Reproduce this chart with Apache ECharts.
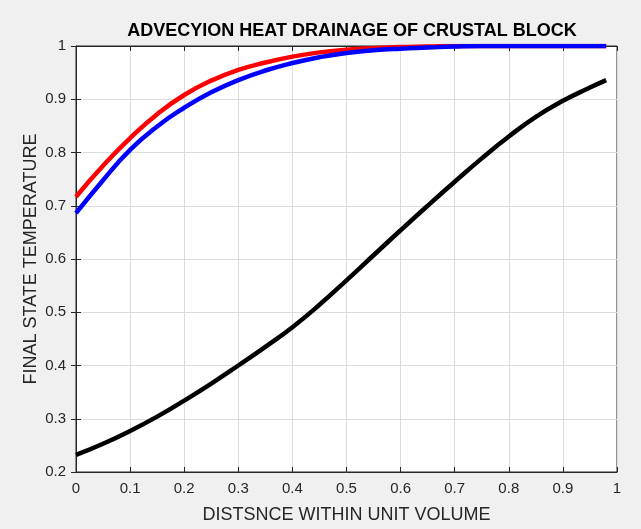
<!DOCTYPE html>
<html>
<head>
<meta charset="utf-8">
<script src="https://cdn.jsdelivr.net/npm/echarts@6/dist/echarts.min.js"></script>
<style>
	html, body { margin: 0; padding: 0; background: #f0f0f0; }
	#chart { width: 641px; height: 529px; }
</style>
</head>
<body>
<div id="chart"></div>
<script>
// distance positions
var xs = [0, 0.05, 0.1, 0.15, 0.2, 0.25, 0.3, 0.35, 0.4, 0.45, 0.5, 0.55, 0.6, 0.65, 0.7, 0.75, 0.8, 0.85, 0.9, 0.95, 0.98]
// final state temperature, three runs
var redT   = [0.717, 0.775, 0.827, 0.872, 0.908, 0.935, 0.955, 0.969, 0.980, 0.988, 0.993, 0.996, 0.998, 0.999, 1, 1, 1, 1, 1, 1, 1]
var blueT  = [0.686, 0.748, 0.805, 0.849, 0.884, 0.913, 0.936, 0.954, 0.968, 0.979, 0.987, 0.992, 0.995, 0.997, 0.999, 1, 1, 1, 1, 1, 1]
var blackT = [0.232, 0.253, 0.277, 0.304, 0.334, 0.366, 0.400, 0.435, 0.472, 0.514, 0.560, 0.607, 0.654, 0.700, 0.745, 0.789, 0.830, 0.867, 0.897, 0.922, 0.936]

function pairs(ys) {
	var arr = []
	for(var i = 0; i < xs.length; i ++) arr.push([xs[i], ys[i]])
	return arr
}

var font = 'Liberation Sans, Arial, sans-serif'
var chart = echarts.init(document.getElementById('chart'))

function lineSeries(ys, color) {
	return {
		type: 'line',
		data: pairs(ys),
		smooth: 0.5,
		showSymbol: false,
		lineStyle: { color: color, width: 4.5 },
		itemStyle: { color: color }
	}
}

var option = {
	backgroundColor: '#f0f0f0',
	animation: false,
	title: {
		text: 'ADVECYION HEAT DRAINAGE OF CRUSTAL BLOCK',
		left: 347,
		textAlign: 'center',
		top: 17,
		textStyle: { fontFamily: font, fontSize: 18, fontWeight: 'bold', color: '#000' }
	},
	grid: {
		left: 76, right: 24, top: 46, bottom: 56,
		show: true, backgroundColor: '#fff', borderColor: '#262626', borderWidth: 1
	},
	xAxis: [{
		type: 'value', min: 0, max: 1, interval: 0.1,
		name: 'DISTSNCE WITHIN UNIT VOLUME', nameLocation: 'middle', nameGap: 34,
		nameMoveOverlap: false,
		nameTextStyle: { fontFamily: font, fontSize: 18, color: '#262626' },
		axisLine: { lineStyle: { color: '#262626' } },
		axisTick: { inside: true, length: 5, lineStyle: { color: '#262626' } },
		axisLabel: { fontFamily: font, fontSize: 15, color: '#262626', margin: 9 },
		splitLine: { lineStyle: { color: '#dcdcdc' } }
	}, {
		type: 'value', min: 0, max: 1, interval: 0.1, position: 'top',
		axisLine: { lineStyle: { color: '#262626' } },
		axisTick: { inside: true, length: 5, lineStyle: { color: '#262626' } },
		axisLabel: { show: false }, splitLine: { show: false }
	}],
	yAxis: [{
		type: 'value', min: 0.2, max: 1, interval: 0.1,
		name: 'FINAL STATE TEMPERATURE', nameLocation: 'middle', nameGap: 36,
		nameMoveOverlap: false,
		nameTextStyle: { fontFamily: font, fontSize: 18, color: '#262626' },
		axisLine: { lineStyle: { color: '#262626' } },
		axisTick: { inside: true, length: 5, lineStyle: { color: '#262626' } },
		axisLabel: { fontFamily: font, fontSize: 15, color: '#262626', margin: 10,
			formatter: function(v) { return String(Math.round(v * 10) / 10) } },
		splitLine: { lineStyle: { color: '#dcdcdc' } }
	}, {
		type: 'value', min: 0.2, max: 1, interval: 0.1, position: 'right',
		axisLine: { lineStyle: { color: '#262626' } },
		axisTick: { inside: true, length: 5, lineStyle: { color: '#262626' } },
		axisLabel: { show: false }, splitLine: { show: false }
	}],
	series: [
		lineSeries(blackT, '#000000'),
		lineSeries(redT, '#ff0000'),
		lineSeries(blueT, '#0000ff')
	]
}

chart.setOption(option)
</script>
</body>
</html>
